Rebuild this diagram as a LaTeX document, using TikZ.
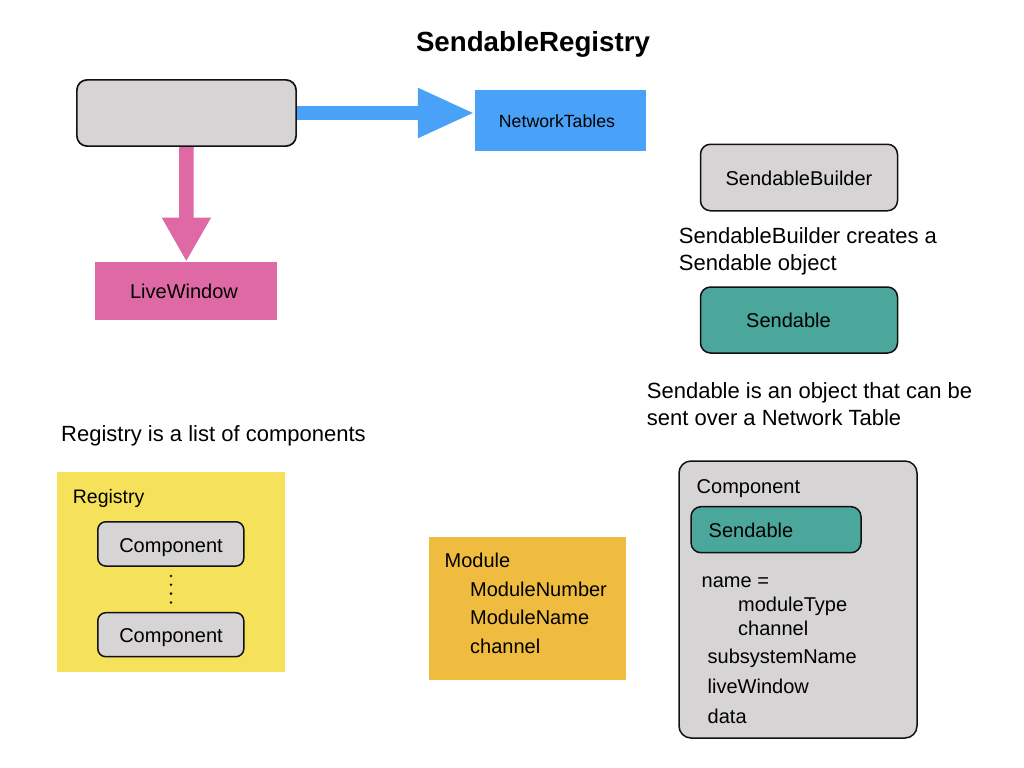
\documentclass[tikz,border=0pt]{standalone}
\usepackage{fontspec}
\setmainfont{Liberation Sans}
\usetikzlibrary{arrows.meta,calc}
\definecolor{boxgray}{HTML}{D6D4D5}
\definecolor{ntblue}{HTML}{4AA2F8}
\definecolor{lwpink}{HTML}{DE69A5}
\definecolor{sendteal}{HTML}{4BA79C}
\definecolor{regyellow}{HTML}{F6E15A}
\definecolor{modorange}{HTML}{F0BC40}
\definecolor{edge}{HTML}{111111}
\tikzset{
  rbox/.style={draw=edge, line width=1.5bp, rounded corners=10bp, inner sep=0pt},
  flatbox/.style={draw=none, inner sep=0pt},
  txt/.style={anchor=base west, inner sep=0pt, font=\fontsize{20bp}{24bp}\selectfont},
  bigtxt/.style={anchor=base west, inner sep=0pt, font=\fontsize{22bp}{26bp}\selectfont},
  lbl/.style={font=\fontsize{20bp}{24bp}\selectfont},
}
\begin{document}
\begin{tikzpicture}[x=1bp,y=-1bp]
\useasboundingbox (0,0) rectangle (1024,768);
\fill[white] (0,0) rectangle (1024,768);

% title
\node[anchor=base, inner sep=0pt, font=\fontsize{27.7bp}{30bp}\selectfont\bfseries] (title) at (533,51.5) {SendableRegistry};

% top diagram
\node[rbox, fill=boxgray, minimum width=219bp, minimum height=66bp] (gray) at (186.5,113) {};
\node[flatbox, fill=ntblue, minimum width=171bp, minimum height=61bp, font=\fontsize{17.7bp}{21bp}\selectfont] (nt) at (560.5,120.5) {};
\node[anchor=base, inner sep=0pt, font=\fontsize{17.7bp}{21bp}\selectfont] (ntlbl) at (557,127) {NetworkTables};
\node[flatbox, fill=lwpink, minimum width=182bp, minimum height=58.5bp] (lw) at (186.3,291) {};
\node[anchor=base, inner sep=0pt, lbl] (lwlbl) at (184,298.5) {LiveWindow};

\draw[ntblue, line width=14bp, -{Triangle[length=57bp,width=46bp]}] (gray.east) -- (gray.east -| nt.west);
\draw[lwpink, line width=14.5bp, -{Triangle[length=44bp,width=46bp]}] (gray.south) -- (lw.north);
\node[rbox, fill=boxgray, minimum width=219bp, minimum height=66bp] at (186.5,113) {};

% right column
\node[rbox, fill=boxgray, minimum width=197bp, minimum height=66.5bp] (sb) at (799,177.5) {};
\node[anchor=base, inner sep=0pt, lbl] (sblbl) at (799,185) {SendableBuilder};
\node[bigtxt] (sbtxt1) at (678.7,243.5) {SendableBuilder creates a};
\node[bigtxt] (sbtxt2) at (678.7,270.5) {Sendable object};
\node[rbox, fill=sendteal, minimum width=197bp, minimum height=66bp] (send) at (799,320) {};
\node[anchor=base, inner sep=0pt, lbl] (sendlbl) at (788.5,327.5) {Sendable};
\node[bigtxt] (stxt1) at (646.7,398.5) {Sendable is an object that can be};
\node[bigtxt] (stxt2) at (646.7,425.5) {sent over a Network Table};

% registry
\node[bigtxt] (regtxt) at (61,441) {Registry is a list of components};
\node[flatbox, fill=regyellow, minimum width=227bp, minimum height=200.6bp] (reg) at (171,571.8) {};
\node[txt, font=\fontsize{19.5bp}{24bp}\selectfont] (reglbl) at (72.7,503.5) {Registry};
\node[rbox, rounded corners=8bp, fill=boxgray, minimum width=146bp, minimum height=44.3bp] (comp1) at (170.8,543.9) {};
\node[anchor=base, inner sep=0pt, lbl] (c1lbl) at (171,552) {Component};
\node[rbox, rounded corners=8bp, fill=boxgray, minimum width=146bp, minimum height=44bp] (comp2) at (170.8,634.7) {};
\node[anchor=base, inner sep=0pt, lbl] (c2lbl) at (171,642.5) {Component};
\foreach \yy in {576,584.8,593.6,602.4} \fill[edge] (171,\yy) circle (1.4bp);

% module
\node[flatbox, fill=modorange, minimum width=197bp, minimum height=143bp] (mod) at (527,608.5) {};
\node[txt] (m1) at (444.5,567.8) {Module};
\node[txt] (m2) at (470,596) {ModuleNumber};
\node[txt] (m3) at (470,624.5) {ModuleName};
\node[txt] (m4) at (470,653) {channel};

% component detail
\node[rbox, rounded corners=12bp, fill=boxgray, minimum width=238bp, minimum height=277bp] (bigcomp) at (798,599.5) {};
\node[txt] (bc1) at (696.5,493.2) {Component};
\node[rbox, fill=sendteal, minimum width=170bp, minimum height=46bp] (insend) at (776,529.7) {};
\node[txt] (bc2) at (708.5,537.3) {Sendable};
\node[txt] (bc3) at (701.5,587.2) {name =};
\node[txt] (bc4) at (738,611) {moduleType};
\node[txt] (bc5) at (738,635) {channel};
\node[txt] (bc6) at (707.5,663.5) {subsystemName};
\node[txt] (bc7) at (707.5,693.5) {liveWindow};
\node[txt] (bc8) at (707.5,723.5) {data};
\end{tikzpicture}
\end{document}
